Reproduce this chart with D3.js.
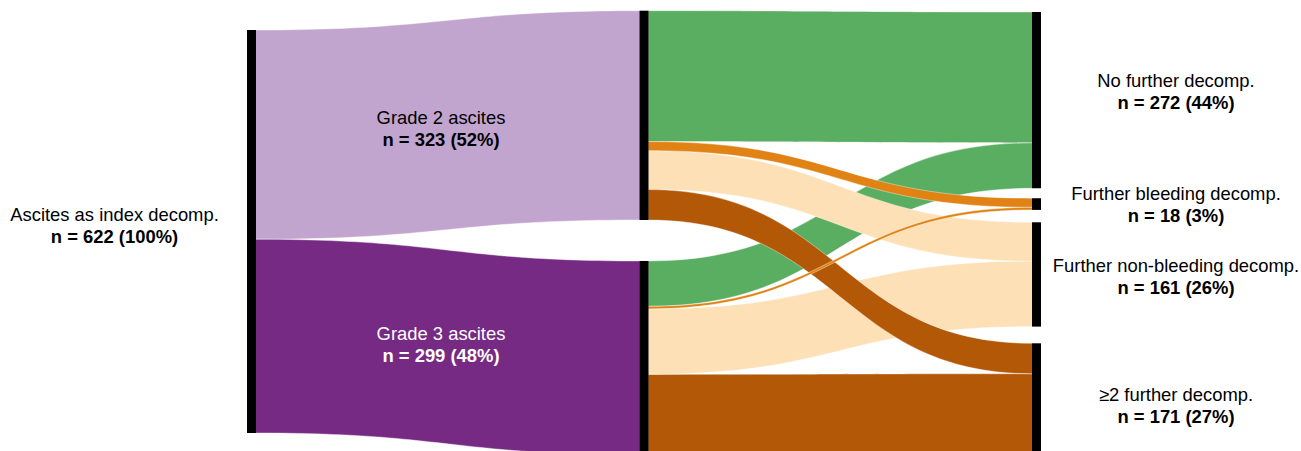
<!DOCTYPE html>
<html>
<head>
<meta charset="utf-8">
<script src="https://cdn.jsdelivr.net/npm/d3@7"></script>
<style>
  html, body { margin: 0; padding: 0; background: #fff; }
  svg { display: block; }
  text { font-family: "Liberation Sans", Arial, Helvetica, sans-serif; font-size: 18.4px; }
</style>
</head>
<body>
<svg id="chart" width="1301" height="451"></svg>
<script>
// ---------- data ----------
const nodeNames = ["Ascites as index decomp.", "Grade 2 ascites", "Grade 3 ascites",
  "No further decomp.", "Further bleeding decomp.", "Further non-bleeding decomp.", "\u22652 further decomp."];
const nodeCounts = [622, 323, 299, 272, 18, 161, 171];
const nodeShares = ["100%", "52%", "48%", "44%", "3%", "26%", "27%"];
const nodeColumn = [0, 1, 1, 2, 2, 2, 2];

const linkSource = [0, 0, 1, 1, 1, 1, 2, 2, 2, 2];
const linkTarget = [1, 2, 3, 4, 5, 6, 3, 4, 5, 6];
const linkValue  = [323, 299, 202, 14, 60, 47, 70, 4, 101, 124];

// ---------- style / layout ----------
const nodeColors = ["#000000", "#c2a5cf", "#762a83", "#5aae61", "#e08214", "#fee0b6", "#b35806"];
const colTop = [30, 10.7, 12];
const colGaps = [[], [41], [10, 12.4, 16.7]];
const nodeWidth = 9;
const labelX = [114.5, 441, 441, 1176, 1176, 1176, 1176];
const labelY = [221, 124, 339.5, 86.5, 199.5, 272, 400.5];
const labelFill = ["#000000", "#000000", "#ffffff", "#000000", "#000000", "#000000", "#000000"];
const lineGap = 22;

const svg = d3.select("#chart");
svg.append("rect").attr("width", 1301).attr("height", 451).attr("fill", "#fff");

const xCol = d3.scaleLinear().domain([0, 2]).range([247, 1032]);
const h = d3.scaleLinear().domain([0, 622]).range([0, 403]);

// node layout
const nodes = nodeNames.map((name, i) => ({ i, name, value: nodeCounts[i], col: nodeColumn[i] }));
[0, 1, 2].forEach(c => {
  let y = colTop[c];
  nodes.filter(n => n.col === c).forEach((n, k) => {
    if (k > 0) y += colGaps[c][k - 1];
    n.x0 = xCol(c);
    n.x1 = n.x0 + nodeWidth;
    n.y0 = y;
    n.y1 = y + h(n.value);
    y = n.y1;
    n.outY = n.y0;
    n.inY = n.y0;
  });
});

// link layout (sources ordered by target, targets ordered by source)
const links = linkValue.map((v, i) => ({ i, source: nodes[linkSource[i]], target: nodes[linkTarget[i]], value: v }));
links.forEach(l => {
  l.s0 = l.source.outY; l.s1 = l.s0 + h(l.value); l.source.outY = l.s1;
});
links.forEach(l => {
  l.t0 = l.target.inY; l.t1 = l.t0 + h(l.value); l.target.inY = l.t1;
});

function band(l) {
  const x0 = l.source.x1 - 0.5, x1 = l.target.x0 + 0.5, xm = (x0 + x1) / 2;
  const p = d3.path();
  p.moveTo(x0, l.s0);
  p.bezierCurveTo(xm, l.s0, xm, l.t0, x1, l.t0);
  p.lineTo(x1, l.t1);
  p.bezierCurveTo(xm, l.t1, xm, l.s1, x0, l.s1);
  p.closePath();
  return p.toString();
}

// draw links: column by column, larger flows first so thin ones sit on top
const ordered = links.slice().sort((a, b) => (a.source.col - b.source.col) || (b.value - a.value));
svg.append("g").selectAll("path").data(ordered).join("path")
  .attr("d", band)
  .attr("fill", d => nodeColors[d.target.i])
  .attr("stroke", "#fff")
  .attr("stroke-width", 0.5)
  .attr("stroke-opacity", 0.8);

// nodes
svg.append("g").selectAll("rect").data(nodes).join("rect")
  .attr("x", d => d.x0).attr("y", d => d.y0)
  .attr("width", nodeWidth).attr("height", d => d.y1 - d.y0)
  .attr("fill", "#000");

// labels
const labelG = svg.append("g");
nodes.forEach(d => {
  const t = labelG.append("text")
    .attr("text-anchor", "middle")
    .attr("x", labelX[d.i])
    .attr("y", labelY[d.i])
    .attr("fill", labelFill[d.i]);
  t.append("tspan").attr("x", labelX[d.i]).text(d.name);
  t.append("tspan").attr("x", labelX[d.i]).attr("dy", lineGap)
    .attr("font-weight", "bold")
    .text(`n = ${d.value} (${nodeShares[d.i]})`);
});
</script>
</body>
</html>
